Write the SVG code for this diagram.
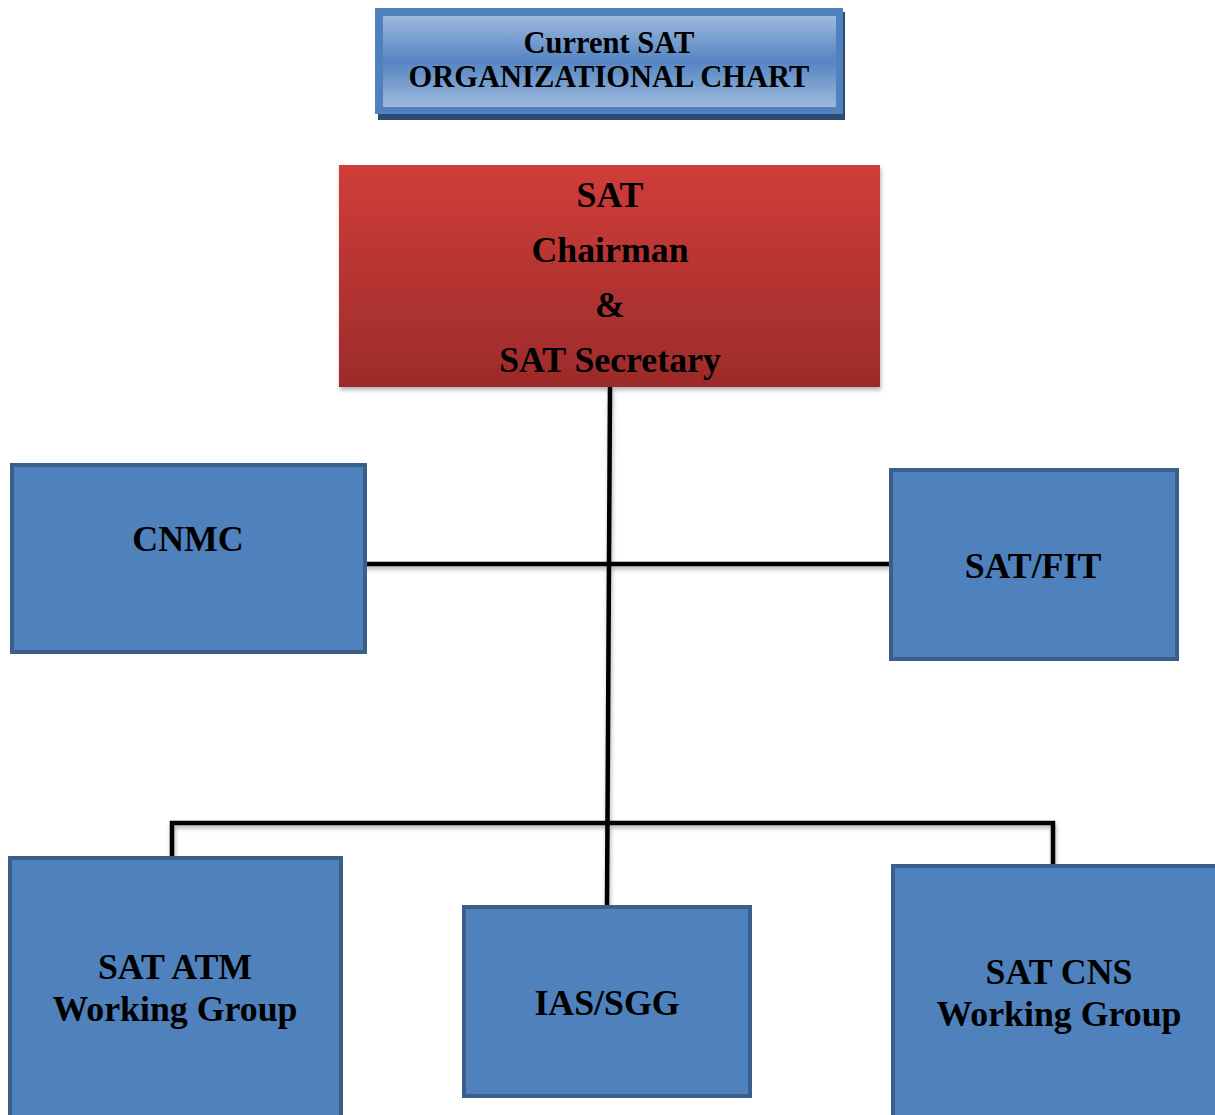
<svg xmlns="http://www.w3.org/2000/svg" width="1215" height="1115" viewBox="0 0 1215 1115">
<style>
text{font-family:"Liberation Serif","Times New Roman",serif;font-weight:bold;fill:#000;text-anchor:middle}
.t{font-size:30.5px}
.n{font-size:35.8px}
.box{fill:#4f81bd;stroke:#3a5f8b;stroke-width:4}
.ln{fill:none;stroke:#000;stroke-width:4.5}
</style>
<defs>
<linearGradient id="gT" x1="0" y1="0" x2="0" y2="1">
<stop offset="0" stop-color="#9db9dd"/>
<stop offset="0.5" stop-color="#5585c2"/>
<stop offset="1" stop-color="#9db9dd"/>
</linearGradient>
<linearGradient id="gR" x1="0" y1="0" x2="0" y2="1">
<stop offset="0" stop-color="#d03d3a"/>
<stop offset="1" stop-color="#9c2b2b"/>
</linearGradient>
<filter id="sh" x="-5%" y="-5%" width="110%" height="115%">
<feDropShadow dx="1" dy="3" stdDeviation="2" flood-color="#000" flood-opacity="0.3"/>
</filter>
</defs>
<g id="connectors" filter="url(#sh)">
<line class="ln" x1="610" y1="387" x2="607" y2="906"/>
<line class="ln" x1="365" y1="564" x2="891" y2="564"/>
<polyline class="ln" points="172,858 172,823 1053,823 1053,866"/>
</g>
<g id="title">
<rect x="378" y="12" width="467" height="108" fill="#2c4a74"/>
<rect x="375" y="8" width="468" height="106" fill="#4f81bd"/>
<rect x="383" y="16" width="453" height="91" fill="url(#gT)"/>
<text class="t" x="609" y="53">Current SAT</text>
<text class="t" x="609" y="87">ORGANIZATIONAL CHART</text>
</g>
<g id="chairman">
<rect x="339" y="165" width="541" height="222" fill="url(#gR)" filter="url(#sh)"/>
<text class="n" x="610" y="207">SAT</text>
<text class="n" x="610" y="262">Chairman</text>
<text class="n" x="610" y="317">&amp;</text>
<text class="n" x="610" y="372">SAT Secretary</text>
</g>
<g id="cnmc">
<rect class="box" x="12" y="465" width="353" height="187"/>
<text class="n" x="188" y="551">CNMC</text>
</g>
<g id="satfit">
<rect class="box" x="891" y="470" width="286" height="189"/>
<text class="n" x="1033" y="578">SAT/FIT</text>
</g>
<g id="atm">
<rect class="box" x="10" y="858" width="331" height="262"/>
<text class="n" x="175" y="979">SAT ATM</text>
<text class="n" x="175" y="1021">Working Group</text>
</g>
<g id="iassgg">
<rect class="box" x="464" y="907" width="286" height="189"/>
<text class="n" x="607" y="1015">IAS/SGG</text>
</g>
<g id="cns">
<rect class="box" x="893" y="866" width="330" height="260"/>
<text class="n" x="1059" y="984">SAT CNS</text>
<text class="n" x="1059" y="1026">Working Group</text>
</g>
</svg>
